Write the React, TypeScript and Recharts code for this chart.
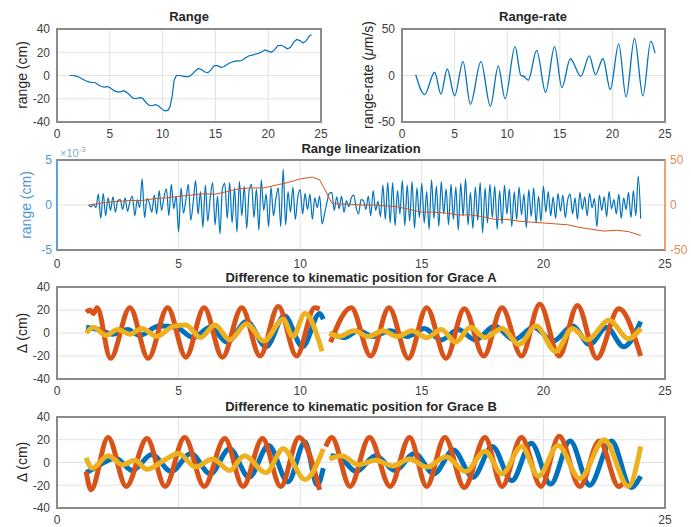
import React from 'react';
import { LineChart, Line, XAxis, YAxis, CartesianGrid } from 'recharts';

type Pt = [number, number];

const BLUE = '#0072BD';
const RED = '#D95319';
const YEL = '#EDB120';

const xTicks = [0, 5, 10, 15, 20, 25];
const rangeTicks = [-40, -20, 0, 20, 40];
const rateTicks = [-50, 0, 50];
const linTicks = [-5, 0, 5];
const linRightTicks = [-50, 0, 50];
const diffTicks = [-40, -20, 0, 20, 40];

// Range (cm)
const rangePts: Pt[] = [
  [1.2, 0], [1.5, 0], [1.8, -0.5], [2.1, -1.5], [2.4, -3], [2.7, -4.5], [3.0, -5.5], [3.3, -6], [3.6, -6],
  [3.9, -8], [4.2, -9.5], [4.5, -10], [4.8, -9.5], [5.1, -11], [5.4, -13], [5.7, -14], [6.0, -14], [6.3, -13],
  [6.6, -14.5], [6.9, -17], [7.2, -19.5], [7.5, -20], [7.8, -19], [8.1, -19.5], [8.4, -23], [8.7, -25.5],
  [9.0, -26], [9.3, -25], [9.6, -26], [9.9, -28.5], [10.2, -30.5], [10.5, -30], [10.7, -27], [10.9, -18],
  [11.1, -4], [11.3, 0], [11.6, 0], [11.9, -0.5], [12.2, -1], [12.5, -1], [12.8, 1], [13.1, 4], [13.4, 6],
  [13.7, 5], [14.0, 3], [14.3, 2.5], [14.6, 5], [14.9, 8.5], [15.2, 8.5], [15.5, 7], [15.8, 7.5], [16.1, 9.5],
  [16.4, 11], [16.7, 12], [17.0, 12.5], [17.3, 12.5], [17.6, 13.5], [17.9, 15.5], [18.2, 17], [18.5, 17.5],
  [18.8, 18.5], [19.1, 19], [19.4, 20.5], [19.7, 22], [20.0, 21], [20.3, 20], [20.6, 22], [20.9, 25.5],
  [21.2, 26], [21.5, 25], [21.8, 23], [22.1, 24], [22.4, 28.5], [22.7, 31], [23.0, 30], [23.3, 28],
  [23.6, 30], [23.9, 34], [24.1, 35],
];

// Range-rate (um/s), turning points
const ratePts: Pt[] = [
  [1.3, 1], [2.15, -20.5], [3.1, 3.5], [3.7, -20], [4.3, 7], [5.0, -22], [5.8, 15], [6.5, -31], [7.5, 15],
  [8.4, -33], [9.15, 10], [9.8, -25], [10.75, 31], [11.3, 0], [11.6, -1], [12.0, -5], [12.8, 27],
  [13.65, -18], [14.5, 31], [15.2, -13], [16.0, 18], [17.0, -1], [17.8, 21], [18.4, 1], [19.1, 18],
  [19.8, -15], [20.6, 34], [21.3, -23], [22.1, 40], [22.9, -22], [23.65, 37], [24.05, 24],
];

// Range linearization residual (x1e-3 cm), one value every 0.1 from 1.3
const linStart = 1.3;
const linStep = 0.1;
const linBlue = [
  0, -0.2, 0.1, -0.3, 1.2, -1.5, 1.3, -1.2, 0.8, -0.6,
  0.9, -0.8, 0.5, 0.6, -0.5, 0.8, -0.7, 0.4, 1.0, -1.2,
  0.6, -0.3, 2.9, -1.4, 0.7, 0.2, -0.8, 1.1, -1.0, 1.6,
  -0.6, 0.9, 1.8, -1.2, 2.3, -0.4, 1.0, -3.0, 1.9, -0.9,
  0.6, 2.3, -1.7, 0.3, 2.7, -1.0, 1.5, -2.5, 2.2, -1.8,
  0.8, 2.5, -2.2, 1.0, -3.2, 1.8, 2.4, -1.5, 2.5, -2.0,
  1.9, -3.0, 2.6, -1.2, 2.1, -2.6, 1.6, 2.3, -1.4, 1.8,
  -2.8, 2.8, -0.6, 1.2, -2.4, 2.0, -1.2, 0.7, 1.9, -2.4,
  4.0, -2.2, 1.5, -0.8, 2.0, -1.6, 0.9, 1.7, -1.0, 1.3,
  -0.5, 1.2, -1.6, 0.8, -0.3, 1.0, -2.1, -1.0, 0.3, 1.3,
  1.4, -0.6, 0.9, -0.4, 1.0, -0.8, 0.5, -0.2, 0.8, 1.1,
  -0.3, -1.0, 0.6, 0.5, -0.5, 1.0, -1.2, 1.6, -0.6, 0.4,
  -1.3, 2.2, -1.6, 2.5, -2.0, 2.5, -2.3, 1.6, -1.0, 2.7,
  -2.3, 2.2, -1.8, 2.6, -2.6, 1.9, -1.4, 2.4, -2.0, 1.5,
  -2.7, 2.8, -1.5, 2.1, -2.4, 2.6, -1.0, 1.8, -2.2, 2.3,
  -1.6, 2.0, -2.8, 2.4, -1.2, 2.9, -2.2, 1.4, -2.6, 2.0,
  -1.7, 2.5, -3.1, 1.9, -2.0, 2.3, -1.4, 2.1, -2.7, 1.6,
  -2.1, 2.2, -1.0, 1.8, -2.4, 1.5, -1.6, 2.0, -1.1, 1.2,
  -2.5, 1.7, -1.3, 1.9, -2.0, 1.0, -1.8, 2.1, -0.8, 1.5,
  -1.2, 0.9, -1.5, 1.3, -0.7, 1.1, -1.4, 0.6, 1.2, -1.0,
  0.8, -1.6, 1.4, -0.5, 0.9, -1.2, 1.3, -0.3, 0.7, -2.4,
  1.1, -0.6, 0.9, -1.3, 1.5, -0.4, 0.6, -1.0, 1.2, -1.5,
  0.8, -0.5, 1.4, -1.4, 1.6, -1.2, 3.2, -1.5,
];
const linOrange: Pt[] = [
  [1.3, 0], [1.6, 1], [2, 3], [2.5, 4], [3, 5], [3.5, 5], [4, 7], [4.5, 8], [5, 9.5], [5.5, 11], [6, 12.5],
  [6.5, 12], [7, 15], [7.5, 18], [8, 19], [8.5, 19], [9, 22], [9.5, 25], [10, 29], [10.5, 31], [10.8, 28],
  [11.0, 18], [11.3, 2], [11.6, 1], [12, 1], [12.5, 0], [13, 0], [13.5, -1], [14, -2], [14.5, -5], [15, -8],
  [15.5, -8], [16, -9], [16.5, -11], [17, -11], [17.5, -13], [18, -16], [18.5, -16], [19, -18], [19.5, -19],
  [20, -20], [20.5, -21], [21, -22], [21.5, -25], [22, -27], [22.5, -29], [23, -28], [23.5, -29.5], [24, -34],
];

// Difference to kinematic position, Grace A (cm), turning points, two arcs each
const aBlue1: Pt[] = [
  [1.2, 5], [1.7, 3], [2.3, -1], [2.9, 3], [3.4, -2], [4.2, 6], [4.9, 5], [5.6, -4], [6.3, 5], [7.0, -8],
  [7.8, 10], [8.6, -12], [9.35, 15], [10.1, -12], [10.8, 17], [10.95, 12],
];
const aBlue2: Pt[] = [
  [11.25, 0], [11.8, -4], [12.4, 2], [13.0, -3], [13.7, 2], [14.4, -3], [15.1, 4], [15.8, -6], [16.5, 3],
  [17.2, -6], [18.0, 6], [18.8, -6], [19.6, 5], [20.4, -7], [21.2, 6], [21.9, -10], [22.6, 5], [23.3, -12],
  [24.0, 10],
];
const aRed1: Pt[] = [
  [1.2, 18], [1.35, 20], [1.5, 17], [1.65, 22], [2.2, -22], [3.0, 22], [3.75, -22], [4.55, 22], [5.3, -21],
  [6.05, 22], [6.8, -21], [7.6, 22], [8.35, -20], [9.1, 23], [9.85, -20], [10.6, 22], [10.8, 21],
];
const aRed2: Pt[] = [
  [11.25, -8], [12.1, 22], [12.9, -20], [13.65, 22], [14.45, -22], [15.2, 22], [16.0, -22], [16.75, 21],
  [17.55, -20], [18.3, 22], [19.1, -20], [19.85, 25], [20.65, -20], [21.4, 24], [22.2, -22], [23.1, 21],
  [24.0, -20],
];
const aYel1: Pt[] = [
  [1.2, 0], [1.5, 5], [2.0, -2], [2.5, 3], [3.0, -1], [3.5, 4], [4.1, -3], [4.8, 6], [5.3, 7], [5.9, -4],
  [6.5, 7], [7.1, -6], [7.8, 8], [8.5, -7], [9.3, 12], [9.7, -3], [10.2, 17], [10.9, -16],
];
const aYel2: Pt[] = [
  [11.2, 0], [11.6, -3], [12.2, 2], [12.8, -3], [13.4, 2], [14.0, -3], [14.6, 2], [15.2, -4], [15.8, 3],
  [16.4, -8], [17.0, 5], [17.6, -4], [18.3, 4], [19.0, -10], [19.7, 6], [20.5, -16], [21.2, 4], [21.8, -6],
  [22.7, 11], [23.5, -5], [24.0, 4],
];

// Difference to kinematic position, Grace B (cm)
const bBlue1: Pt[] = [
  [1.2, -9], [1.7, -3], [2.4, 4], [3.1, -7], [3.9, 7], [4.7, -8], [5.5, 8], [6.3, -10], [7.1, 12], [7.9, -13],
  [8.7, 15], [9.5, -17], [10.2, 18], [10.7, -20], [10.95, -5],
];
const bBlue2: Pt[] = [
  [11.25, 6], [11.6, 5], [12.3, -8], [13.1, 6], [13.9, -7], [14.7, 8], [15.5, -10], [16.3, 11], [17.1, -13],
  [17.9, 14], [18.7, -16], [19.5, 17], [20.3, -19], [21.1, 19], [21.9, -20], [22.8, 19], [23.6, -22],
  [24.0, -12],
];
const bRed1: Pt[] = [
  [1.2, -8], [1.4, -24], [2.1, 22], [2.85, -21], [3.7, 21], [4.45, -21], [5.25, 22], [6.05, -21], [6.9, 21],
  [7.65, -21], [8.45, 21], [9.2, -21], [9.95, 22], [10.8, -24],
];
const bRed2: Pt[] = [
  [11.05, 14], [11.3, 22], [12.05, -21], [12.85, 22], [13.7, -21], [14.5, 22], [15.2, -21], [15.95, 22],
  [16.75, -22], [17.6, 22], [18.3, -21], [19.1, 22], [19.9, -21], [20.65, 23], [21.5, -21], [22.3, 19],
  [23.1, -21], [23.3, -18],
];
const bYel1: Pt[] = [
  [1.2, 4], [1.45, -5], [2.1, 6], [2.7, -2], [3.2, 2], [3.7, -6], [4.4, 2], [5.0, 8], [5.7, -4], [6.4, 3],
  [7.1, -7], [7.7, 6], [8.6, -9], [9.3, 12], [10.2, -15], [10.95, 12],
];
const bYel2: Pt[] = [
  [11.2, 3], [11.7, 6], [12.4, -2], [13.1, 2], [13.8, -3], [14.5, 3], [15.2, -4], [16.0, 5], [16.8, -8],
  [17.6, 10], [18.3, -10], [19.1, 14], [19.8, -12], [20.6, 15], [21.5, -14], [22.5, 20], [23.5, -21],
  [24.0, 14],
];

const toRows = (pts: Pt[]) => pts.map(([x, y]) => ({ x, y }));
const withGap = (a: Pt[], b: Pt[]) => [
  ...toRows(a),
  { x: (a[a.length - 1][0] + b[0][0]) / 2, y: null },
  ...toRows(b),
];
const linBlueRows = linBlue.map((y, i) => ({ x: linStart + i * linStep, y }));

const FONT = '"Liberation Sans", Arial, Helvetica, sans-serif';
const tickStyle = { fill: '#404040', fontSize: 12 };
const GRID = '#e2e2e2';
const BOX = '#8a8a8a';

const Txt = ({ x, y, rotate, style, children }: any) => (
  <div
    style={{
      position: 'absolute',
      left: x,
      top: y,
      transform: `translate(-50%, -50%)${rotate ? ' rotate(-90deg)' : ''}`,
      whiteSpace: 'nowrap',
      lineHeight: 1,
      ...style,
    }}
  >
    {children}
  </div>
);

const Frame = ({ l, t, r, b, left = BOX, right = BOX }: any) => (
  <div
    style={{
      position: 'absolute',
      left: l - 1,
      top: t - 1,
      width: r - l + 2,
      height: b - t + 2,
      boxSizing: 'border-box',
      border: `2px solid ${BOX}`,
      borderLeftColor: left,
      borderRightColor: right,
      pointerEvents: 'none',
    }}
  />
);

const xAxis = (margin = 7, fmt?: (v: number) => string) => (
  <XAxis
    type="number"
    dataKey="x"
    domain={[0, 25]}
    ticks={xTicks}
    axisLine={false}
    tickLine={false}
    tickSize={0}
    tickMargin={margin}
    height={22}
    tick={tickStyle}
    tickFormatter={fmt}
    interval={0}
  />
);

const thick = (rows: any[], color: string) => (
  <Line
    data={rows}
    dataKey="y"
    type="monotone"
    stroke={color}
    strokeWidth={5}
    dot={false}
    activeDot={false}
    connectNulls={false}
    isAnimationActive={false}
  />
);

const DiffPanel = ({ top, plotTop, height, series, fmt }: any) => (
  <div style={{ position: 'absolute', left: 0, top }}>
    <LineChart width={691} height={height} margin={{ top: plotTop - top, right: 26, bottom: 0, left: 0 }}>
      <CartesianGrid stroke={GRID} />
      {xAxis(7, fmt)}
      <YAxis
        type="number"
        domain={[-40, 40]}
        ticks={diffTicks}
        width={57}
        axisLine={false}
        tickLine={false}
        tickSize={0}
        tickMargin={7}
        tick={tickStyle}
        interval={0}
      />
      {series.map((s: any) => thick(s.rows, s.color))}
    </LineChart>
  </div>
);

export default function App() {
  return (
    <div
      style={{
        position: 'absolute',
        left: 0,
        top: 0,
        width: 691,
        height: 527,
        background: '#fff',
        fontFamily: FONT,
        color: '#262626',
        overflow: 'hidden',
      }}
    >
      {/* Range */}
      <div style={{ position: 'absolute', left: 0, top: 0 }}>
        <LineChart width={345} height={144} margin={{ top: 29, right: 24, bottom: 0, left: 0 }}>
          <CartesianGrid stroke={GRID} />
          {xAxis()}
          <YAxis type="number" domain={[-40, 40]} ticks={rangeTicks} width={57} axisLine={false}
            tickLine={false} tickSize={0} tickMargin={7} tick={tickStyle} interval={0} />
          <Line data={toRows(rangePts)} dataKey="y" type="linear" stroke={BLUE} strokeWidth={1.2}
            dot={false} activeDot={false} isAnimationActive={false} />
        </LineChart>
      </div>
      <Frame l={57} t={29} r={321} b={122} />
      <Txt x={189} y={16} style={{ fontWeight: 'bold', fontSize: 13 }}>Range</Txt>
      <Txt x={22} y={75} rotate style={{ fontSize: 14 }}>range (cm)</Txt>

      {/* Range-rate */}
      <div style={{ position: 'absolute', left: 345, top: 0 }}>
        <LineChart width={346} height={144} margin={{ top: 29, right: 26, bottom: 0, left: 0 }}>
          <CartesianGrid stroke={GRID} />
          {xAxis()}
          <YAxis type="number" domain={[-50, 50]} ticks={rateTicks} width={57} axisLine={false}
            tickLine={false} tickSize={0} tickMargin={7} tick={tickStyle} interval={0} />
          <Line data={toRows(ratePts)} dataKey="y" type="monotone" stroke={BLUE} strokeWidth={1.3}
            dot={false} activeDot={false} isAnimationActive={false} />
        </LineChart>
      </div>
      <Frame l={402} t={29} r={665} b={122} />
      <Txt x={533} y={16} style={{ fontWeight: 'bold', fontSize: 13 }}>Range-rate</Txt>
      <Txt x={368} y={75} rotate style={{ fontSize: 14 }}>
        range-rate (<i>μ</i>m/s)
      </Txt>

      {/* Range linearization */}
      <div style={{ position: 'absolute', left: 0, top: 140 }}>
        <LineChart width={691} height={132} margin={{ top: 20, right: 0, bottom: 0, left: 0 }}>
          <CartesianGrid stroke={GRID} />
          {xAxis(9)}
          <YAxis type="number" domain={[-5, 5]} ticks={linTicks} width={57} axisLine={false}
            tickLine={false} tickSize={0} tickMargin={5} tick={{ fill: '#4f97cf', fontSize: 12 }} interval={0} />
          <YAxis yAxisId="r" orientation="right" type="number" domain={[-50, 50]} ticks={linRightTicks}
            width={26} axisLine={false} tickLine={false} tickSize={0} tickMargin={5}
            tick={{ fill: '#e38c55', fontSize: 12 }} interval={0} />
          <Line data={linBlueRows} dataKey="y" type="monotone" stroke={BLUE} strokeWidth={1.2}
            dot={false} activeDot={false} isAnimationActive={false} />
          <Line data={toRows(linOrange)} yAxisId="r" dataKey="y" type="linear" stroke={RED} strokeWidth={1}
            dot={false} activeDot={false} isAnimationActive={false} />
        </LineChart>
      </div>
      <Frame l={57} t={160} r={665} b={250} left="#5aa3dc" right="#eea36e" />
      <Txt x={361} y={148} style={{ fontWeight: 'bold', fontSize: 13 }}>Range linearization</Txt>
      <Txt x={26} y={205} rotate style={{ fontSize: 14, color: '#4f97cf' }}>range (cm)</Txt>
      <div style={{ position: 'absolute', left: 60, top: 146, fontSize: 11, color: '#86a9cc', lineHeight: 1 }}>
        ×10<sup style={{ fontSize: 8 }}>-3</sup>
      </div>

      {/* Grace A */}
      <DiffPanel
        top={270}
        plotTop={287}
        height={131}
        series={[
          { rows: withGap(aBlue1, aBlue2), color: BLUE },
          { rows: withGap(aRed1, aRed2), color: RED },
          { rows: withGap(aYel1, aYel2), color: YEL },
        ]}
      />
      <Frame l={57} t={287} r={665} b={379} />
      <Txt x={361} y={277} style={{ fontWeight: 'bold', fontSize: 13 }}>
        Difference to kinematic position for Grace A
      </Txt>
      <Txt x={22} y={333} rotate style={{ fontSize: 14 }}>Δ (cm)</Txt>

      {/* Grace B */}
      <DiffPanel
        top={400}
        plotTop={417}
        height={130}
        fmt={(v: number) => (v === 0 || v === 25 ? String(v) : '')}
        series={[
          { rows: withGap(bBlue1, bBlue2), color: BLUE },
          { rows: withGap(bRed1, bRed2), color: RED },
          { rows: withGap(bYel1, bYel2), color: YEL },
        ]}
      />
      <Frame l={57} t={417} r={665} b={508} />
      <Txt x={361} y={406} style={{ fontWeight: 'bold', fontSize: 13 }}>
        Difference to kinematic position for Grace B
      </Txt>
      <Txt x={22} y={462} rotate style={{ fontSize: 14 }}>Δ (cm)</Txt>
    </div>
  );
}
